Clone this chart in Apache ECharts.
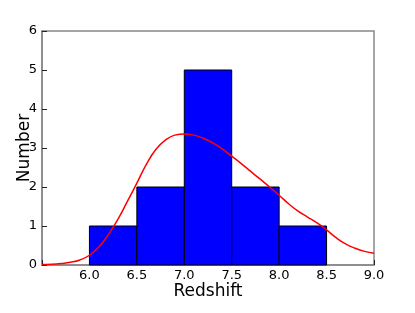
<!DOCTYPE html>
<html>
<head>
<meta charset="utf-8">
<script src="https://cdn.jsdelivr.net/npm/echarts@6/dist/echarts.min.js"></script>
<style>
  html, body { margin: 0; padding: 0; background: #fff; }
  #chart { width: 415px; height: 313px; }
</style>
</head>
<body>
<div id="chart"></div>
<script>
// histogram bins (left edge, right edge) and counts
const binStarts = [6.0, 6.5, 7.0, 7.5, 8.0]
const binEnds = [6.5, 7.0, 7.5, 8.0, 8.5]
const binCounts = [1, 2, 5, 2, 1]

// density curve
const curveX = [5.5, 5.6, 5.7, 5.8, 5.9, 6.0, 6.1, 6.2, 6.3, 6.4, 6.5, 6.6, 6.7, 6.8, 6.9, 7.0,
  7.1, 7.2, 7.3, 7.4, 7.5, 7.6, 7.7, 7.8, 7.9, 8.0, 8.1, 8.2, 8.3, 8.4, 8.5, 8.6, 8.7, 8.8, 8.9, 9.0]
const curveY = [0.01, 0.02, 0.04, 0.07, 0.13, 0.25, 0.46, 0.78, 1.17, 1.63, 2.1, 2.58, 2.96, 3.2, 3.33, 3.36,
  3.33, 3.25, 3.13, 2.98, 2.79, 2.6, 2.4, 2.2, 2.0, 1.79, 1.57, 1.38, 1.23, 1.08, 0.9, 0.7, 0.54, 0.43, 0.35, 0.3]

const chart = echarts.init(document.getElementById('chart'))

const font = 'DejaVu Sans'
const spine = '#888888'

chart.setOption({
  animation: false,
  grid: {
    left: 42,
    right: 41,
    top: 31,
    bottom: 48,
    containLabel: false,
    outerBoundsMode: 'none',
    show: true,
    borderColor: spine,
    borderWidth: 1.5,
  },
  xAxis: {
    type: 'value',
    min: 5.5,
    max: 9.0,
    interval: 0.5,
    name: 'Redshift',
    nameLocation: 'middle',
    nameGap: 18,
    nameMoveOverlap: false,
    nameTextStyle: { fontFamily: font, fontSize: 17, color: '#000' },
    axisLine: { show: true, lineStyle: { color: spine, width: 1.5 } },
    axisTick: { show: true, inside: true, length: 5, lineStyle: { color: '#222' } },
    splitLine: { show: false },
    axisLabel: {
      fontFamily: font,
      fontSize: 13,
      color: '#000',
      margin: 4,
      formatter: (v) => (v === 5.5 ? '' : v.toFixed(1)),
    },
  },
  yAxis: {
    type: 'value',
    min: 0,
    max: 6,
    interval: 1,
    name: 'Number',
    nameLocation: 'middle',
    nameGap: 9,
    nameMoveOverlap: false,
    nameTextStyle: { fontFamily: font, fontSize: 17, color: '#000' },
    axisLine: { show: true, lineStyle: { color: spine, width: 1.5 } },
    axisTick: { show: true, inside: true, length: 5, lineStyle: { color: '#222' } },
    splitLine: { show: false },
    axisLabel: { fontFamily: font, fontSize: 13, color: '#000', margin: 5 },
  },
  series: [
    {
      type: 'custom',
      data: binCounts.map((c, i) => [binStarts[i], binEnds[i], c]),
      encode: { x: [0, 1], y: 2 },
      renderItem: (params, api) => {
        const p0 = api.coord([api.value(0), api.value(2)])
        const p1 = api.coord([api.value(1), 0])
        return {
          type: 'rect',
          shape: { x: p0[0], y: p0[1], width: p1[0] - p0[0], height: p1[1] - p0[1] },
          style: { fill: '#0000ff', stroke: '#000000', lineWidth: 1 },
        }
      },
      z: 2,
    },
    {
      type: 'line',
      data: curveX.map((x, i) => [x, curveY[i]]),
      smooth: true,
      showSymbol: false,
      lineStyle: { color: '#ff0000', width: 1.5 },
      z: 3,
    },
  ],
})
</script>
</body>
</html>
